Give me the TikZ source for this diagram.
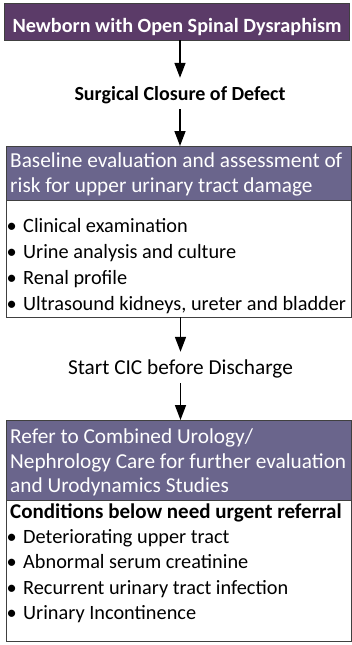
\documentclass[tikz,border=0pt]{standalone}
\usepackage{fontspec}
\setmainfont{Carlito}
\usetikzlibrary{arrows.meta}
\definecolor{topfill}{HTML}{5B3B68}
\definecolor{hdrfill}{HTML}{6A658C}
\definecolor{edge}{HTML}{404040}
\begin{document}
\begin{tikzpicture}[x=1pt,y=-1pt,
  box/.style={draw=edge, line width=1pt, inner sep=0pt, outer sep=0pt, anchor=north west, minimum width=345pt},
  arr/.style={line width=1.6pt, -{Triangle[width=11pt,length=15pt]}},
  txt/.style={anchor=base west, inner sep=0pt, font=\fontsize{21.3}{25}\selectfont},
  htxt/.style={txt, text=white},
  itm/.style={txt, text=black, font=\fontsize{20.3}{24}\selectfont},
  lbl/.style={anchor=base, inner xsep=0pt, inner ysep=9pt, text height=13pt, text depth=0pt, font=\fontsize{21.3}{25}\selectfont}]
\useasboundingbox (0,0) rectangle (352,645);
\fill[white] (0,0) rectangle (352,645);
% top box
\node[box, fill=topfill, minimum height=37pt] (b1) at (4,3) {};
\node[anchor=base, inner sep=0pt, text=white, font=\fontsize{20.2}{24}\selectfont\bfseries] (t1) at (177,32) {Newborn with Open Spinal Dysraphism};
% label 1
\node[lbl, font=\fontsize{20}{24}\selectfont\bfseries] (surg) at (180,100) {Surgical Closure of Defect};
% box 2
\node[box, fill=hdrfill, minimum height=54pt] (b2h) at (6,146) {};
\node[box, fill=white, minimum height=117pt] (b2b) at (6,200) {};
\node[htxt] (h21) at (10,167) {Baseline evaluation and assessment of};
\node[htxt] (h22) at (10,192) {risk for upper urinary tract damage};
\node[itm] (i21) at (6.5,232) {\makebox[16.5pt][l]{•}Clinical examination};
\node[itm] (i22) at (6.5,258) {\makebox[16.5pt][l]{•}Urine analysis and culture};
\node[itm] (i23) at (6.5,284) {\makebox[16.5pt][l]{•}Renal profile};
\node[itm] (i24) at (6.5,310) {\makebox[16.5pt][l]{•}Ultrasound kidneys, ureter and bladder};
% label 2
\node[lbl] (cic) at (180.5,374) {Start CIC before Discharge};
% box 3
\node[box, fill=hdrfill, minimum height=80pt] (b3h) at (6,420) {};
\node[box, fill=white, minimum height=141pt] (b3b) at (6,500) {};
\node[htxt] (h31) at (10,443) {Refer to Combined Urology/};
\node[htxt] (h32) at (10,468) {Nephrology Care for further evaluation};
\node[htxt] (h33) at (10,492) {and Urodynamics Studies};
\node[itm, font=\fontsize{21}{25}\selectfont\bfseries] (c31) at (10,518) {Conditions below need urgent referral};
\node[itm] (i31) at (6.5,543) {\makebox[16.5pt][l]{•}Deteriorating upper tract};
\node[itm] (i32) at (6.5,568) {\makebox[16.5pt][l]{•}Abnormal serum creatinine};
\node[itm] (i33) at (6.5,594) {\makebox[16.5pt][l]{•}Recurrent urinary tract infection};
\node[itm] (i34) at (6.5,619) {\makebox[16.5pt][l]{•}Urinary Incontinence};
% arrows
\draw[arr] (b1.south -| surg) -- (surg.north);
\draw[arr] (surg.south) -- (b2h.north -| surg);
\draw[arr] (b2b.south -| cic) -- (cic.north);
\draw[arr] (cic.south) -- (b3h.north -| cic);
\end{tikzpicture}
\end{document}
